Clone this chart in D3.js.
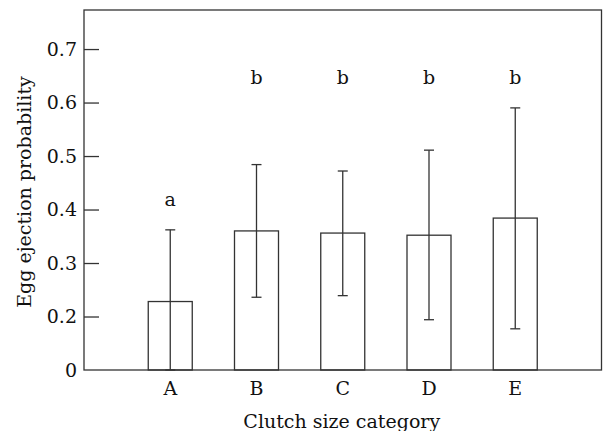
<!DOCTYPE html>
<html>
<head>
<meta charset="utf-8">
<script src="https://cdn.jsdelivr.net/npm/d3@7"></script>
<style>
  body { margin: 0; background: #fff; }
  svg text { font-family: "DejaVu Serif", serif; fill: #111; }
  .frame, .bar, .err, .tick line { stroke: #333; stroke-width: 1.3; }
  .bar { fill: #fff; }
  .frame { fill: none; }
</style>
</head>
<body>
<svg id="chart" width="603" height="431"></svg>
<script>
// values; the axis is broken, baseline 0.1 is labelled "0"
const categories = ['A', 'B', 'C', 'D', 'E'];
const means  = [0.228, 0.360, 0.356, 0.352, 0.384];
const lower  = [0.100, 0.236, 0.239, 0.194, 0.177];
const upper  = [0.362, 0.484, 0.472, 0.511, 0.590];
const letters = ['a', 'b', 'b', 'b', 'b'];
const yTicks = [0.1, 0.2, 0.3, 0.4, 0.5, 0.6, 0.7];
const yTickLabels = ['0', '0.2', '0.3', '0.4', '0.5', '0.6', '0.7'];

const svg = d3.select('#chart'),
    m = {left: 84, top: 10, right: 1.5, bottom: 61},
    W = 603, H = 431,
    x0 = m.left, x1 = W - m.right, y0 = H - m.bottom, y1 = m.top;

const x = d3.scalePoint().domain(categories).range([x0, x1]).padding(1);
const y = d3.scaleLinear().domain([0.1, 0.773]).range([y0, y1]);

const barW = 44, capW = 10;

// y axis, ticks pointing inward
const yAxis = d3.axisRight(y)
    .tickValues(yTicks)
    .tickSize(15)
    .tickFormat((d, i) => '');
const ga = svg.append('g').attr('transform', `translate(${x0},0)`).call(yAxis);
ga.select('.domain').remove();
ga.selectAll('.tick').filter(d => d === 0.1).remove();

svg.append('g').selectAll('text')
    .data(yTicks)
    .join('text')
    .attr('x', x0 - 7)
    .attr('y', d => y(d))
    .attr('dy', '0.36em')
    .attr('text-anchor', 'end')
    .style('font-size', '19px')
    .text((d, i) => yTickLabels[i]);

// x labels
svg.append('g').selectAll('text')
    .data(categories)
    .join('text')
    .attr('x', d => x(d))
    .attr('y', y0 + 25)
    .attr('text-anchor', 'middle')
    .style('font-size', '19px')
    .text(d => d);

// bars
const rows = categories.map((c, i) => ({c, mean: means[i], lo: lower[i], hi: upper[i], letter: letters[i]}));

svg.append('g').selectAll('rect')
    .data(rows)
    .join('rect')
    .attr('class', 'bar')
    .attr('x', d => x(d.c) - barW / 2)
    .attr('y', d => y(d.mean))
    .attr('width', barW)
    .attr('height', d => y(0.1) - y(d.mean));

// error bars
const eb = svg.append('g').selectAll('g')
    .data(rows)
    .join('g')
    .attr('class', 'err');
eb.append('line')
    .attr('x1', d => x(d.c)).attr('x2', d => x(d.c))
    .attr('y1', d => y(d.lo)).attr('y2', d => y(d.hi));
eb.append('line')
    .attr('x1', d => x(d.c) - capW / 2).attr('x2', d => x(d.c) + capW / 2)
    .attr('y1', d => y(d.hi)).attr('y2', d => y(d.hi));
eb.append('line')
    .attr('x1', d => x(d.c) - capW / 2).attr('x2', d => x(d.c) + capW / 2)
    .attr('y1', d => y(d.lo)).attr('y2', d => y(d.lo));

// significance letters: one level per group, above its highest error bar
const groupTop = d3.rollup(rows, v => d3.max(v, d => d.hi), d => d.letter);
svg.append('g').selectAll('text')
    .data(rows)
    .join('text')
    .attr('x', d => x(d.c))
    .attr('y', d => y(groupTop.get(d.letter)) - 31)
    .attr('dy', '0.36em')
    .attr('text-anchor', 'middle')
    .style('font-size', '19px')
    .text(d => d.letter);

// frame
svg.append('rect')
    .attr('class', 'frame')
    .attr('x', x0).attr('y', y1)
    .attr('width', x1 - x0).attr('height', y0 - y1);

// titles
svg.append('text')
    .attr('x', (x0 + x1) / 2 - 1)
    .attr('y', H - 3)
    .attr('text-anchor', 'middle')
    .style('font-size', '19px')
    .text('Clutch size category');

svg.append('text')
    .attr('transform', `translate(31,${(y0 + y1) / 2 + 2}) rotate(-90)`)
    .attr('text-anchor', 'middle')
    .style('font-size', '19px')
    .text('Egg ejection probability');
</script>
</body>
</html>
